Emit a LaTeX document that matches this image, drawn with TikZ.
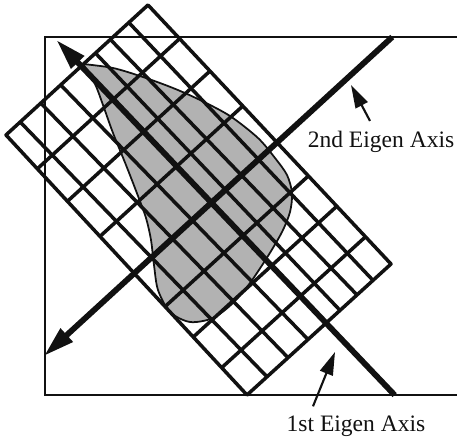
\documentclass[tikz,border=0pt]{standalone}
\usepackage{fontspec}
\setmainfont{Liberation Serif}
\usetikzlibrary{arrows.meta,calc,positioning}
\definecolor{ink}{HTML}{111111}
\definecolor{shade}{HTML}{B2B2B2}

\begin{document}
\begin{tikzpicture}[x=0.02cm,y=-0.02cm,
  frame/.style={draw=ink,line width=1.2pt},
  cell/.style={draw=ink,line width=2pt,line join=round},
  eigen/.style={draw=ink,line width=3.3pt,-{Triangle[length=0.62cm,width=0.34cm]}},
  pointer/.style={draw=ink,line width=1.2pt,-{Triangle[length=0.46cm,width=0.27cm]}},
  lbl/.style={font=\fontsize{13.4}{16}\selectfont,text=ink,inner sep=0pt}]
\useasboundingbox (0,0) rectangle (457,442);
% outer frame, open to the right
\draw[frame] (457,37) -- (45,37) -- (45,395) -- (457,395);
% data cloud
\draw[fill=shade,draw=ink,line width=1pt] plot[smooth] coordinates {(83,64) (113,68) (143,77) (173,88) (200,100) (230,116) (258,138) (275,158) (287,175) (292,193) (290,212) (282,232) (268,256) (250,283) (233,303) (213,318) (190,322) (170,312) (158,290) (154,265) (151,240) (146,218) (138,196) (126,165) (113,133) (103,105) (95,84) (83,64)} -- cycle;
% rotated grid
\coordinate (gT) at (148,5);
\coordinate (gR) at (391,264);
\coordinate (gB) at (247,395);
\coordinate (gL) at (6,135);
\draw[cell] (gT) -- (gR) -- (gB) -- (gL) -- cycle;
\foreach \f/\g in {.135/.125,.265/.236,.37/.354,.47/.451,.615/.576,.755/.715,.9/.861}
  \draw[cell] ($(gT)!\f!(gL)$) -- ($(gR)!\g!(gB)$);
\foreach \f in {.13,.255,.39,.531,.66,.777,.895}
  \draw[cell] ($(gT)!\f!(gR)$) -- ($(gL)!\f!(gB)$);
% eigen axes
\coordinate (a1s) at ($(gT)!.47!(gL)$);
\coordinate (a1e) at ($(gR)!.451!(gB)$);
\coordinate (a2s) at ($(gT)!.531!(gR)$);
\coordinate (a2e) at ($(gL)!.532!(gB)$);
\draw[eigen] ($(a1s)!1.2803!(a1e)$) -- ($(a1s)!-0.1016!(a1e)$);
\draw[eigen] ($(a2s)!-0.8066!(a2e)$) -- ($(a2s)!1.632!(a2e)$);
% labels
\node[lbl] (lab2) at (381,142) {2nd Eigen Axis};
\node[lbl] (lab1) at (356,426) {1st Eigen Axis};
\coordinate (p2) at (351,85);
\coordinate (p1) at (335,352);
\draw[pointer] ([shift={(-11,-10)}]lab2.north) -- (p2);
\draw[pointer] ([shift={(-43,-9)}]lab1.north) -- (p1);
\end{tikzpicture}
\end{document}
